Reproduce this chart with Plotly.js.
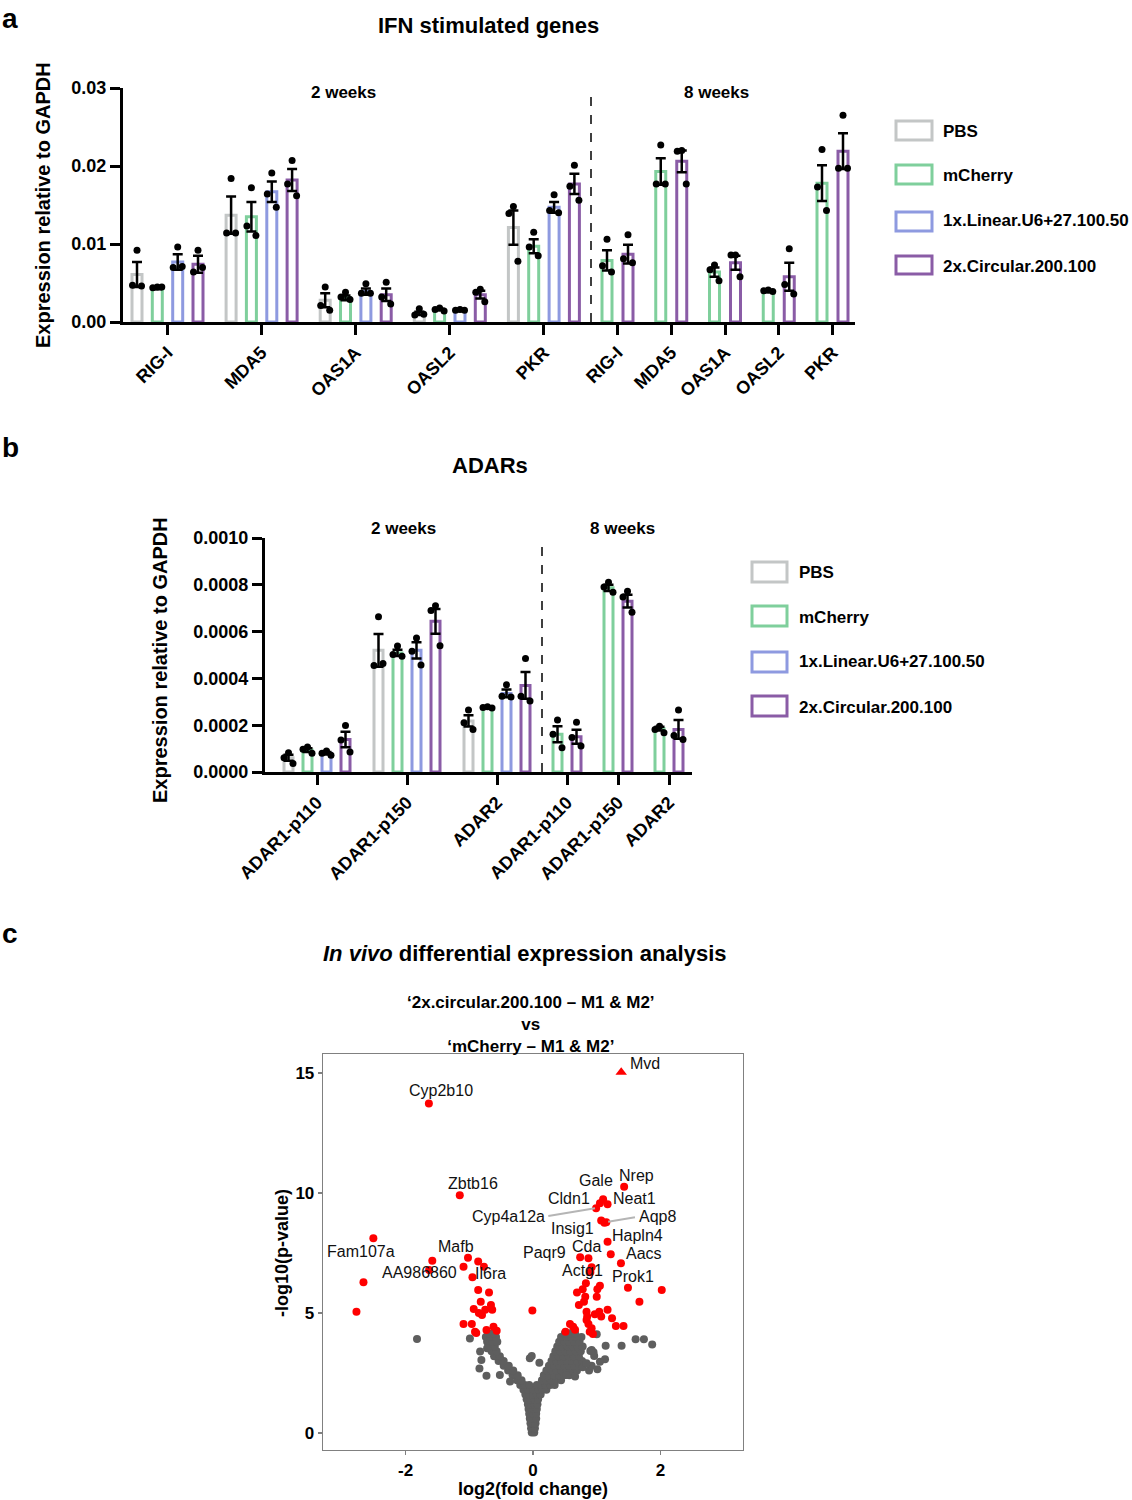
<!DOCTYPE html>
<html><head><meta charset="utf-8">
<script src="https://cdn.plot.ly/plotly-3.0.1.min.js"></script>
<style>html,body{margin:0;padding:0;background:#fff}#chart{width:1132px;height:1500px}</style>
</head><body><div id="chart"></div>
<script>
// ---------------- DATA ----------------
const seriesNames = ['PBS', 'mCherry', '1x.Linear.U6+27.100.50', '2x.Circular.200.100'];

// Panel a : IFN stimulated genes
const genesA = ['RIG-I', 'MDA5', 'OAS1A', 'OASL2', 'PKR'];
// 2 weeks
const a2PBS      = [0.0061, 0.0137, 0.0028, 0.0011, 0.0121];
const a2PBSsem   = [0.0016, 0.0024, 0.0009, 0.0002, 0.0022];
const a2PBSpts   = [[0.0092,0.0047,0.0046],[0.0184,0.0114,0.0114],[0.0045,0.0021,0.0015],[0.0017,0.0009,0.0010],[0.0148,0.0139,0.0078]];
const a2mCh      = [0.0043, 0.0135, 0.0031, 0.0016, 0.0097];
const a2mChsem   = [0.0001, 0.0019, 0.0003, 0.0001, 0.0009];
const a2mChpts   = [[0.0045,0.0044,0.0045],[0.0172,0.0123,0.0111],[0.0038,0.0032,0.0029],[0.0018,0.0016,0.0014],[0.0115,0.0096,0.0085]];
const a2Lin      = [0.0077, 0.0167, 0.0039, 0.0015, 0.0147];
const a2Linsem   = [0.0010, 0.0013, 0.0004, 0.0001, 0.0007];
const a2Linpts   = [[0.0096,0.0070,0.0071],[0.0191,0.0164,0.0147],[0.0049,0.0037,0.0037],[0.0016,0.0015,0.0015],[0.0163,0.0143,0.0140]];
const a2Circ     = [0.0074, 0.0182, 0.0035, 0.0035, 0.0177];
const a2Circsem  = [0.0011, 0.0014, 0.0008, 0.0005, 0.0013];
const a2Circpts  = [[0.0092,0.0064,0.0070],[0.0207,0.0177,0.0162],[0.0051,0.0032,0.0023],[0.0042,0.0038,0.0026],[0.0201,0.0174,0.0156]];
// 8 weeks
const a8mCh      = [0.0079, 0.0193, 0.0064, 0.0039, 0.0178];
const a8mChsem   = [0.0013, 0.0017, 0.0006, 0.0001, 0.0023];
const a8mChpts   = [[0.0106,0.0072,0.0064],[0.0227,0.0177,0.0177],[0.0073,0.0067,0.0053],[0.0041,0.0040,0.0039],[0.0221,0.0173,0.0143]];
const a8Circ     = [0.0087, 0.0206, 0.0076, 0.0058, 0.0219];
const a8Circsem  = [0.0012, 0.0014, 0.0009, 0.0018, 0.0023];
const a8Circpts  = [[0.0112,0.0081,0.0076],[0.0220,0.0219,0.0177],[0.0086,0.0086,0.0058],[0.0094,0.0048,0.0036],[0.0265,0.0197,0.0197]];

// Panel b : ADARs
const genesB = ['ADAR1-p110', 'ADAR1-p150', 'ADAR2'];
const b2PBS      = [0.000061, 0.000520, 0.000218];
const b2PBSsem   = [0.000013, 0.000070, 0.000024];
const b2PBSpts   = [[0.000082,0.000061,0.000036],[0.000663,0.000455,0.000464],[0.000265,0.000210,0.000182]];
const b2mCh      = [0.000094, 0.000509, 0.000275];
const b2mChsem   = [0.000008, 0.000013, 0.000002];
const b2mChpts   = [[0.000107,0.000097,0.000080],[0.000538,0.000502,0.000495],[0.000279,0.000276,0.000273]];
const b2Lin      = [0.000080, 0.000520, 0.000336];
const b2Linsem   = [0.000005, 0.000035, 0.000017];
const b2Linpts   = [[0.000090,0.000080,0.000072],[0.000573,0.000516,0.000457],[0.000373,0.000324,0.000321]];
const b2Circ     = [0.000139, 0.000644, 0.000370];
const b2Circsem  = [0.000033, 0.000053, 0.000057];
const b2Circpts  = [[0.000199,0.000137,0.000085],[0.000711,0.000690,0.000540],[0.000485,0.000324,0.000303]];
const b8mCh      = [0.000161, 0.000787, 0.000185];
const b8mChsem   = [0.000034, 0.000013, 0.000008];
const b8mChpts   = [[0.000222,0.000161,0.000104],[0.000811,0.000791,0.000768],[0.000196,0.000182,0.000168]];
const b8Circ     = [0.000151, 0.000730, 0.000182];
const b8Circsem  = [0.000030, 0.000027, 0.000040];
const b8Circpts  = [[0.000213,0.000147,0.000111],[0.000772,0.000748,0.000683],[0.000265,0.000156,0.000139]];

// Panel c : volcano (log2 fold change, -log10 p)
const sigX = [-1.634,-1.149,-2.505,-2.66,-2.77,-1.58,-1.63,-1.02,-1.09,-0.86,-0.77,-0.95,-0.86,-0.69,-0.82,-0.66,-0.93,-0.75,-0.64,-0.80,-0.85,-1.09,-0.96,-0.91,-0.89,-0.73,-0.62,-0.57,-0.01,
  1.43,1.10,1.05,1.17,0.99,1.07,1.15,1.12,1.17,1.22,1.38,0.74,0.87,0.92,0.90,0.83,1.49,2.02,1.67,1.05,1.01,0.78,0.69,0.82,0.80,1.00,0.72,0.84,1.04,1.17,0.97,1.07,1.24,0.84,0.87,0.58,0.63,0.51,0.92,0.89,1.30,1.42,0.85,0.66,0.94];
const sigY = [13.73,9.90,8.11,6.28,5.05,7.18,6.79,7.30,6.93,7.14,6.93,6.49,5.96,5.85,5.47,5.33,5.17,5.13,5.13,4.92,5.00,4.54,4.54,4.22,4.16,4.29,4.43,4.26,5.10,
  10.26,9.74,9.57,9.53,9.36,8.85,8.78,8.76,7.97,7.45,7.07,7.32,7.28,6.90,6.70,6.24,6.05,5.96,5.47,6.13,5.99,5.99,5.85,5.68,5.47,5.68,5.33,5.05,5.05,5.13,4.95,4.85,4.78,4.71,4.54,4.54,4.43,4.22,4.36,4.22,4.46,4.46,4.85,4.30,4.12];
const topX = [1.384];
const topY = [15.03];
// non-significant genes: rows of [ -log10 p, [log2FC values] ]
const nsRows = [
  [0.02, [-0.02, 0.02]],
  [0.2,  [-0.03, 0.0, 0.03]],
  [0.4,  [-0.04, 0.0, 0.04]],
  [0.6,  [-0.05, 0.0, 0.05]],
  [0.8,  [-0.06, 0.0, 0.05]],
  [1.0,  [-0.07, -0.02, 0.02, 0.06]],
  [1.2,  [-0.08, -0.03, 0.02, 0.07]],
  [1.4,  [-0.1, -0.04, 0.02, 0.08]],
  [1.6,  [-0.12, -0.06, 0.0, 0.06, 0.12]],
  [1.8,  [-0.15, -0.08, 0.0, 0.08, 0.15, 0.21]],
  [2.0,  [-0.2, -0.13, -0.06, 0.06, 0.13, 0.2, 0.27, 0.34]],
  [2.2,  [-0.25, -0.18, 0.14, 0.21, 0.28, 0.36, 0.44]],
  [2.4,  [-0.32, -0.24, 0.17, 0.25, 0.33, 0.41, 0.49, 0.57]],
  [2.6,  [-0.39, -0.31, 0.21, 0.29, 0.37, 0.45, 0.53, 0.61, 0.69, 0.88]],
  [2.8,  [-0.46, -0.38, 0.25, 0.33, 0.41, 0.49, 0.57, 0.65, 0.73, 0.92]],
  [3.0,  [-0.54, -0.46, 0.29, 0.37, 0.45, 0.53, 0.61, 0.69, 0.77]],
  [3.2,  [-0.61, -0.52, 0.32, 0.4, 0.48, 0.56, 0.64, 0.72]],
  [3.4,  [-0.65, -0.57, 0.35, 0.43, 0.51, 0.59, 0.67, 0.75]],
  [3.6,  [-0.69, -0.6, 0.38, 0.46, 0.54, 0.62, 0.7, 0.78]],
  [3.8,  [-0.72, -0.64, -0.56, 0.41, 0.49, 0.57, 0.65, 0.73]],
  [4.0,  [-0.74, -0.66, -0.58, 0.44, 0.52, 0.6, 0.68, 0.76]],
  [4.15, [-0.7, -0.62, 0.5, 0.58, 0.66]]
];
const nsOutX = [-1.82,-0.99,-0.83,-0.72,-0.81,-0.84,-0.73,-0.52,-0.36,-0.05,-0.02,0.10,0.66,0.52,0.78,1.01,1.13,0.96,0.92,1.00,0.84,1.05,1.61,1.74,1.87,1.39,1.14,0.95,0.90];
const nsOutY = [3.91,3.94,3.39,3.53,3.04,2.69,2.38,2.42,2.14,3.11,3.21,2.93,2.35,2.42,2.74,2.65,3.07,3.21,3.46,4.11,2.90,2.97,3.90,3.90,3.69,3.63,3.63,3.36,3.42];
const geneLabels = ['Mvd','Cyp2b10','Zbtb16','Gale','Nrep','Cldn1','Neat1','Cyp4a12a','Aqp8','Insig1','Hapln4','Cda','Paqr9','Aacs','Fam107a','Mafb','AA986860','Il6ra','Actg1','Prok1'];

// ---------------- LAYOUT HELPERS ----------------
const FONT = 'Liberation Sans, Arial, Helvetica, sans-serif';
const W = 1132, H = 1500;
const px = v => v / W;
const py = v => 1 - v / H;
const colors = ['#c3c6c6', '#7fcf9c', '#8e9ae0', '#8a5ca6'];

const traces = [];
function addBars(xs, ys, errs, pts, color, xa, ya, w) {
  traces.push({
    type: 'bar', x: xs, y: ys, width: w, xaxis: xa, yaxis: ya,
    marker: { color: 'rgba(255,255,255,0)', line: { color: color, width: 3 } },
    error_y: { type: 'data', array: errs, visible: true, color: '#000', thickness: 2.5, width: 5 },
    showlegend: false, hoverinfo: 'skip'
  });
  const dx = [], dy = [], jit = [0, -4.5, 4.5];
  pts.forEach((p, i) => p.forEach((v, k) => { dx.push(xs[i] + jit[k]); dy.push(v); }));
  traces.push({
    type: 'scatter', mode: 'markers', x: dx, y: dy, xaxis: xa, yaxis: ya,
    marker: { color: '#000', size: 7 }, showlegend: false, hoverinfo: 'skip', cliponaxis: false
  });
}

// Panel a positions (x axis units = pixels across the panel)
const cA2 = genesA.map((g, i) => 44.5 + 94.1 * i);
const cA8 = genesA.map((g, i) => 494.5 + 53.75 * i);
const offA2 = [-30.5, -10.2, 10.2, 30.5];
const offA8 = [-10.5, 10.5];
addBars(cA2.map(c => c + offA2[0]), a2PBS, a2PBSsem, a2PBSpts, colors[0], 'x', 'y', 10);
addBars(cA2.map(c => c + offA2[1]), a2mCh, a2mChsem, a2mChpts, colors[1], 'x', 'y', 10);
addBars(cA2.map(c => c + offA2[2]), a2Lin, a2Linsem, a2Linpts, colors[2], 'x', 'y', 10);
addBars(cA2.map(c => c + offA2[3]), a2Circ, a2Circsem, a2Circpts, colors[3], 'x', 'y', 10);
addBars(cA8.map(c => c + offA8[0]), a8mCh, a8mChsem, a8mChpts, colors[1], 'x', 'y', 10);
addBars(cA8.map(c => c + offA8[1]), a8Circ, a8Circsem, a8Circpts, colors[3], 'x', 'y', 10);

// Panel b positions
const cB2 = genesB.map((g, i) => 52 + 90 * i);
const cB8 = genesB.map((g, i) => 302 + 51 * i);
const offB2 = [-28.5, -9.5, 9.5, 28.5];
const offB8 = [-9.5, 9.5];
addBars(cB2.map(c => c + offB2[0]), b2PBS, b2PBSsem, b2PBSpts, colors[0], 'x2', 'y2', 9);
addBars(cB2.map(c => c + offB2[1]), b2mCh, b2mChsem, b2mChpts, colors[1], 'x2', 'y2', 9);
addBars(cB2.map(c => c + offB2[2]), b2Lin, b2Linsem, b2Linpts, colors[2], 'x2', 'y2', 9);
addBars(cB2.map(c => c + offB2[3]), b2Circ, b2Circsem, b2Circpts, colors[3], 'x2', 'y2', 9);
addBars(cB8.map(c => c + offB8[0]), b8mCh, b8mChsem, b8mChpts, colors[1], 'x2', 'y2', 9);
addBars(cB8.map(c => c + offB8[1]), b8Circ, b8Circsem, b8Circpts, colors[3], 'x2', 'y2', 9);

// Panel c
const nsX = [], nsY = [];
nsRows.forEach(([y, xs]) => xs.forEach(x => { nsX.push(x); nsY.push(y); }));
traces.push({ type: 'scatter', mode: 'markers', x: nsX.concat(nsOutX), y: nsY.concat(nsOutY), xaxis: 'x3', yaxis: 'y3',
  marker: { color: '#5e5e5e', size: 8 }, showlegend: false, hoverinfo: 'skip' });
traces.push({ type: 'scatter', mode: 'markers', x: sigX, y: sigY, xaxis: 'x3', yaxis: 'y3',
  marker: { color: '#ff0000', size: 8 }, showlegend: false, hoverinfo: 'skip' });
traces.push({ type: 'scatter', mode: 'markers', x: topX, y: topY, xaxis: 'x3', yaxis: 'y3',
  marker: { color: '#ff0000', size: 10, symbol: 'triangle-up' }, showlegend: false, hoverinfo: 'skip' });

// label placements (data coordinates of the label text centre)
const labelPos = {
  'Mvd': [1.49, 15.38, 'left'], 'Cyp2b10': [-1.443, 14.25], 'Zbtb16': [-0.941, 10.375], 'Gale': [0.988, 10.5],
  'Nrep': [1.631, 10.71], 'Cldn1': [0.565, 9.75], 'Neat1': [1.6, 9.75], 'Cyp4a12a': [-0.392, 9.0],
  'Aqp8': [1.96, 9.0], 'Insig1': [0.627, 8.54], 'Hapln4': [1.647, 8.21], 'Cda': [0.847, 7.75],
  'Paqr9': [0.173, 7.54], 'Aacs': [1.741, 7.46], 'Fam107a': [-2.698, 7.58], 'Mafb': [-1.208, 7.75],
  'AA986860': [-1.773, 6.67], 'Il6ra': [-0.659, 6.625], 'Actg1': [0.784, 6.75], 'Prok1': [1.569, 6.54]
};

const annotations = [];
function ann(text, x, y, size, opts) {
  annotations.push(Object.assign({ text: text, x: px(x), y: py(y), xref: 'paper', yref: 'paper', showarrow: false,
    xanchor: 'center', yanchor: 'middle', font: { family: FONT, size: size, color: '#000' } }, opts || {}));
}
ann('<b>a</b>', 0, 1, 28, { xanchor: 'left', yanchor: 'top' });
ann('<b>b</b>', 0, 447, 28, { xanchor: 'left' });
ann('<b>c</b>', 0, 933, 28, { xanchor: 'left' });
ann('<b>IFN stimulated genes</b>', 488, 26, 22);
ann('<b>ADARs</b>', 490, 466, 22);
ann('<b><i>In vivo</i> differential expression analysis</b>', 525, 953, 22);
ann('<b>\u20182x.circular.200.100 \u2013 M1 &amp; M2\u2019<br>vs<br>\u2018mCherry \u2013 M1 &amp; M2\u2019</b>', 531, 1024, 17);
ann('<b>2 weeks</b>', 343, 92, 17);
ann('<b>8 weeks</b>', 716, 92, 17);
ann('<b>2 weeks</b>', 403, 528, 17);
ann('<b>8 weeks</b>', 622, 528, 17);
ann('<b>Expression relative to GAPDH</b>', 43, 205, 20, { textangle: -90 });
ann('<b>Expression relative to GAPDH</b>', 160, 660, 20, { textangle: -90 });
ann('<b>-log10(p-value)</b>', 282, 1253, 18, { textangle: -90 });
ann('<b>log2(fold change)</b>', 533, 1489, 18);
const legA = [132, 176, 220, 266], legB = [572, 617, 661, 707];
seriesNames.forEach((n, i) => {
  ann('<b>' + n + '</b>', 941, legA[i], 17, { xanchor: 'left' });
  ann('<b>' + n + '</b>', 797, legB[i], 17, { xanchor: 'left' });
});
geneLabels.forEach(g => {
  const p = labelPos[g];
  annotations.push({ text: g, x: p[0], y: p[1], xref: 'x3', yref: 'y3', showarrow: false,
    xanchor: p[2] || 'center', yanchor: 'middle', font: { family: FONT, size: 16, color: '#111' } });
});

const shapes = [];
const boxA = [[121, 140], [165, 184], [212, 231], [256, 274]];
const boxB = [[562, 582], [606, 626], [652, 672], [696, 716]];
seriesNames.forEach((n, i) => {
  shapes.push({ type: 'rect', xref: 'paper', yref: 'paper', x0: px(896), x1: px(932), y0: py(boxA[i][1]), y1: py(boxA[i][0]),
    line: { color: colors[i], width: 3 }, fillcolor: 'rgba(0,0,0,0)' });
  shapes.push({ type: 'rect', xref: 'paper', yref: 'paper', x0: px(752), x1: px(787), y0: py(boxB[i][1]), y1: py(boxB[i][0]),
    line: { color: colors[i], width: 3 }, fillcolor: 'rgba(0,0,0,0)' });
});
shapes.push({ type: 'line', xref: 'x', yref: 'y', x0: 468, x1: 468, y0: 0, y1: 0.03, line: { color: '#000', width: 1.5, dash: 'dash' } });
shapes.push({ type: 'line', xref: 'x2', yref: 'y2', x0: 277, x1: 277, y0: 0, y1: 0.001, line: { color: '#000', width: 1.5, dash: 'dash' } });
shapes.push({ type: 'line', xref: 'x3', yref: 'y3', x0: 0.24, y0: 9.04, x1: 0.973, y1: 9.36, line: { color: '#b5b5b5', width: 2 } });
shapes.push({ type: 'line', xref: 'x3', yref: 'y3', x0: 1.18, y0: 8.80, x1: 1.6, y1: 8.99, line: { color: '#b5b5b5', width: 2 } });

const tickFont = { family: FONT, size: 18, color: '#000', weight: 'bold' };
const barX = (dom, range, vals, text) => ({
  domain: dom, range: range, tickvals: vals, ticktext: text, tickangle: -45, showline: true, linewidth: 3, linecolor: '#000',
  ticks: 'outside', ticklen: 10, tickwidth: 3, tickcolor: '#000', showgrid: false, zeroline: false, tickfont: tickFont, fixedrange: true
});
const barY = (dom, range, vals, text, anchor) => ({
  domain: dom, range: range, tickvals: vals, ticktext: text, showline: true, linewidth: 3, linecolor: '#000', anchor: anchor,
  ticks: 'outside', ticklen: 10, tickwidth: 3, tickcolor: '#000', showgrid: false, zeroline: false, tickfont: tickFont, fixedrange: true
});

const layout = {
  width: W, height: H, margin: { l: 0, r: 0, t: 0, b: 0 }, paper_bgcolor: '#fff', plot_bgcolor: 'rgba(0,0,0,0)',
  barmode: 'overlay', showlegend: false, font: { family: FONT, color: '#000' },
  xaxis: Object.assign(barX([px(123), px(855)], [0, 732], cA2.concat(cA8), genesA.concat(genesA)), { anchor: 'y' }),
  yaxis: barY([py(322), py(88)], [0, 0.03], [0, 0.01, 0.02, 0.03], ['0.00', '0.01', '0.02', '0.03'], 'x'),
  xaxis2: Object.assign(barX([px(265), px(692)], [0, 427], cB2.concat(cB8), genesB.concat(genesB)), { anchor: 'y2' }),
  yaxis2: barY([py(772), py(538)], [0, 0.001], [0, 0.0002, 0.0004, 0.0006, 0.0008, 0.001],
    ['0.0000', '0.0002', '0.0004', '0.0006', '0.0008', '0.0010'], 'x2'),
  xaxis3: { domain: [px(323), px(743)], range: [-3.295, 3.295], anchor: 'y3', tickvals: [-2, 0, 2], ticktext: ['-2', '0', '2'],
    showline: true, mirror: true, linecolor: '#808080', linewidth: 1.3, ticks: 'outside', ticklen: 4, tickwidth: 1.3, tickcolor: '#808080',
    showgrid: false, zeroline: false, tickfont: { family: FONT, size: 17, color: '#000', weight: 'bold' }, fixedrange: true },
  yaxis3: { domain: [py(1450), py(1054)], range: [-0.71, 15.79], anchor: 'x3', tickvals: [0, 5, 10, 15], ticktext: ['0', '5', '10', '15'],
    showline: true, mirror: true, linecolor: '#808080', linewidth: 1.3, ticks: 'outside', ticklen: 4, tickwidth: 1.3, tickcolor: '#808080',
    showgrid: false, zeroline: false, tickfont: { family: FONT, size: 17, color: '#000', weight: 'bold' }, fixedrange: true },
  annotations: annotations, shapes: shapes
};

Plotly.newPlot('chart', traces, layout, { staticPlot: true, displayModeBar: false });
</script>
</body></html>
